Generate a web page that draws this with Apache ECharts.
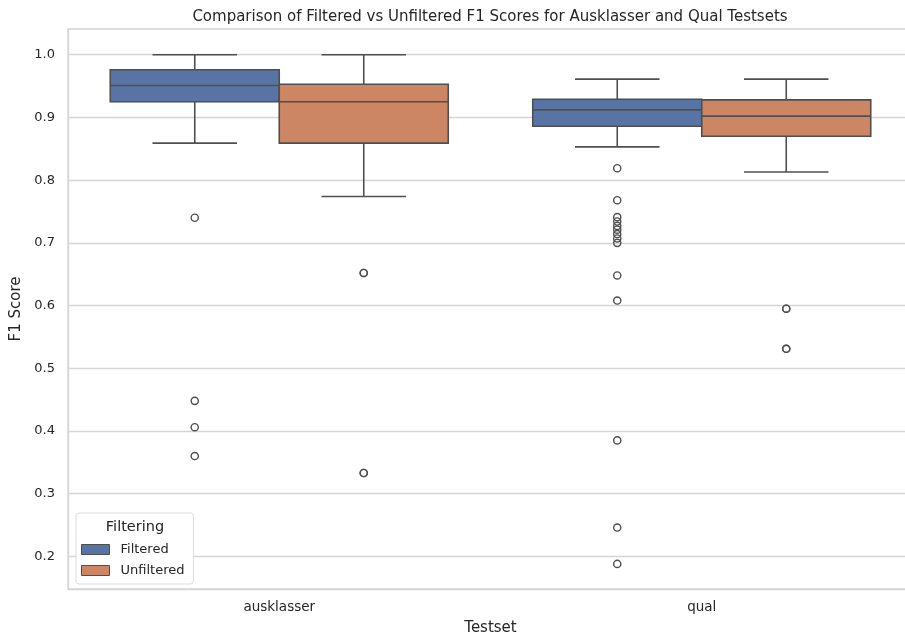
<!DOCTYPE html>
<html><head><meta charset="utf-8">
<script src="https://cdn.jsdelivr.net/npm/echarts@6/dist/echarts.min.js"></script>
<style>html,body{margin:0;padding:0;background:#fff}#c{width:905px;height:639px}</style>
</head><body><div id="c"></div>
<script>
const categories = ['ausklasser', 'qual'];
const seriesNames = ['Filtered', 'Unfiltered'];
// each box: [lower whisker, Q1, median, Q3, upper whisker]
const filteredBoxes = [
  [0.859, 0.925, 0.951, 0.976, 1.000],
  [0.853, 0.886, 0.912, 0.929, 0.961]
];
const unfilteredBoxes = [
  [0.774, 0.859, 0.925, 0.953, 1.000],
  [0.813, 0.870, 0.902, 0.928, 0.961]
];
const filteredOutliers = [
  [0.740, 0.448, 0.406, 0.360],
  [0.819, 0.768, 0.741, 0.734, 0.727, 0.721, 0.714, 0.707, 0.700, 0.648, 0.608, 0.385, 0.246, 0.188]
];
const unfilteredOutliers = [
  [0.652, 0.652, 0.333, 0.333],
  [0.595, 0.595, 0.531, 0.531]
];
const yTicks = [0.2, 0.3, 0.4, 0.5, 0.6, 0.7, 0.8, 0.9, 1.0];

const FONT = 'DejaVu Sans';
const TXT = '#262626';
const GRID = '#d5d5d5';
const LINE = '#4f4f4f';
const LW = 1.6;
const COLORS = ['#5874a4', '#cc8663'];

function boxRenderer(side) {
  return function (params, api) {
    const ci = api.value(0);
    const band = api.size([1, 0])[0];
    const cx = api.coord([ci, 0.5])[0] + side * band * 0.2;
    const half = band * 0.2;
    const capHalf = band * 0.1;
    const y = i => api.coord([ci, api.value(i)])[1];
    const yLow = y(1), yQ1 = y(2), yMed = y(3), yQ3 = y(4), yHigh = y(5);
    const ls = { stroke: LINE, lineWidth: LW };
    return {
      type: 'group', children: [
        { type: 'line', shape: { x1: cx, y1: yQ1, x2: cx, y2: yLow }, style: ls },
        { type: 'line', shape: { x1: cx, y1: yQ3, x2: cx, y2: yHigh }, style: ls },
        { type: 'line', shape: { x1: cx - capHalf, y1: yLow, x2: cx + capHalf, y2: yLow }, style: ls },
        { type: 'line', shape: { x1: cx - capHalf, y1: yHigh, x2: cx + capHalf, y2: yHigh }, style: ls },
        { type: 'rect', shape: { x: cx - half, y: yQ3, width: 2 * half, height: yQ1 - yQ3 },
          style: { fill: COLORS[side < 0 ? 0 : 1], stroke: LINE, lineWidth: LW } },
        { type: 'line', shape: { x1: cx - half, y1: yMed, x2: cx + half, y2: yMed }, style: ls }
      ]
    };
  };
}
function outlierRenderer(side) {
  return function (params, api) {
    const ci = api.value(0);
    const band = api.size([1, 0])[0];
    const p = api.coord([ci, api.value(1)]);
    return { type: 'circle', shape: { cx: p[0] + side * band * 0.2, cy: p[1], r: 3.6 },
      style: { fill: 'none', stroke: LINE, lineWidth: 1.4 } };
  };
}
const boxData = arr => arr.map((b, i) => [i].concat(b));
const outData = arr => {
  const out = [];
  arr.forEach((vals, ci) => vals.forEach(v => out.push([ci, v])));
  return out;
};

const chart = echarts.init(document.getElementById('c'), null, { renderer: 'canvas' });
chart.setOption({
  backgroundColor: '#ffffff',
  animation: false,
  title: {
    text: 'Comparison of Filtered vs Unfiltered F1 Scores for Ausklasser and Qual Testsets',
    left: 490, top: 10, textAlign: 'center', padding: 0,
    textStyle: { fontFamily: FONT, fontSize: 15, fontWeight: 'normal', color: TXT }
  },
  grid: { left: 68, top: 29, width: 845, height: 560, outerBoundsMode: 'none', containLabel: false,
    show: true, borderColor: GRID, borderWidth: 1.3, backgroundColor: '#fff' },
  legend: {
    left: 76, top: 513, orient: 'vertical',
    padding: [30, 9, 7, 5],
    itemWidth: 28, itemHeight: 10, itemGap: 8,
    backgroundColor: '#fff', borderColor: '#dcdcdc', borderWidth: 1, borderRadius: 3,
    textStyle: { fontFamily: FONT, fontSize: 13, color: TXT, padding: [0, 0, 0, 6] },
    data: seriesNames.map((n, i) => ({ name: n, icon: 'rect', itemStyle: { color: COLORS[i], borderColor: LINE, borderWidth: 1 } }))
  },
  graphic: [{
    type: 'text', x: 135, y: 527, z: 200, zlevel: 1,
    style: { text: 'Filtering', fontFamily: FONT, fontSize: 14.5, fill: TXT, align: 'center', verticalAlign: 'middle' }
  }],
  xAxis: {
    type: 'category', data: categories, boundaryGap: true,
    name: 'Testset', nameLocation: 'middle', nameGap: 32,
    nameTextStyle: { fontFamily: FONT, fontSize: 15, color: TXT },
    axisLine: { show: true, lineStyle: { color: GRID, width: 1.3 } },
    axisTick: { show: false },
    axisLabel: { fontFamily: FONT, fontSize: 13.5, color: TXT, margin: 11 },
    splitLine: { show: false }
  },
  yAxis: {
    type: 'value', min: 0.148, max: 1.041,
    name: 'F1 Score', nameLocation: 'middle', nameGap: 38,
    nameTextStyle: { fontFamily: FONT, fontSize: 15, color: TXT },
    axisLine: { show: true, lineStyle: { color: GRID, width: 1.3 } },
    axisTick: { show: false, customValues: yTicks },
    axisLabel: { customValues: yTicks, fontFamily: FONT, fontSize: 13, color: TXT, margin: 13,
      formatter: v => v.toFixed(1) },
    splitLine: { show: true, lineStyle: { color: GRID, width: 1.3 } }
  },
  series: [
    { name: 'Filtered', type: 'custom', renderItem: boxRenderer(-1), data: boxData(filteredBoxes),
      encode: { x: 0, y: [1, 2, 3, 4, 5] }, itemStyle: { color: COLORS[0], borderColor: LINE }, z: 3 },
    { name: 'Unfiltered', type: 'custom', renderItem: boxRenderer(1), data: boxData(unfilteredBoxes),
      encode: { x: 0, y: [1, 2, 3, 4, 5] }, itemStyle: { color: COLORS[1], borderColor: LINE }, z: 3 },
    { name: 'Filtered outliers', type: 'custom', renderItem: outlierRenderer(-1), data: outData(filteredOutliers),
      encode: { x: 0, y: 1 }, z: 4 },
    { name: 'Unfiltered outliers', type: 'custom', renderItem: outlierRenderer(1), data: outData(unfilteredOutliers),
      encode: { x: 0, y: 1 }, z: 4 }
  ]
});
</script>
</body></html>
